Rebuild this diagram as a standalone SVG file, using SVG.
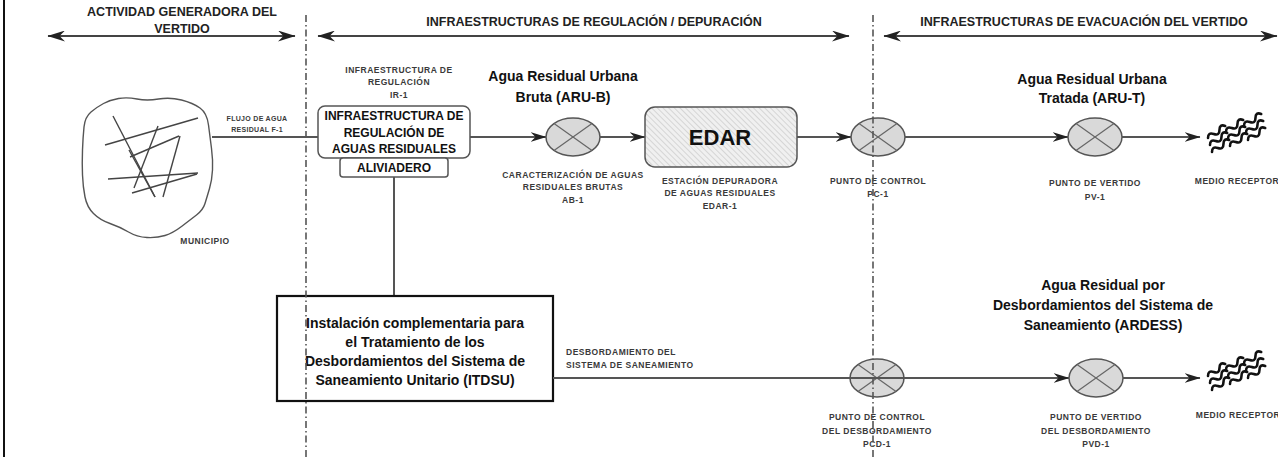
<svg xmlns="http://www.w3.org/2000/svg" xmlns:xlink="http://www.w3.org/1999/xlink" width="1278" height="457" viewBox="0 0 1278 457">
<style>
text{font-family:"Liberation Sans",Arial,sans-serif;font-weight:bold;text-anchor:middle}
.hdr{font-size:12.5px;fill:#222}
.big{font-size:14px;fill:#111}
.box{font-size:12px;fill:#111}
.sm{font-size:8.5px;fill:#3a3a3a;letter-spacing:0.5px}
.fl{font-size:7px;fill:#3a3a3a;letter-spacing:0.3px}
.conn{stroke:#555;stroke-width:2;fill:none}
.hline{stroke:#444;stroke-width:2.2;fill:none}
.div{stroke:#555;stroke-width:1.6;stroke-dasharray:7,3,1.5,3;fill:none}
.scrib{stroke:#444;stroke-width:1.4;fill:none}
</style>
<defs>
<marker id="arr" viewBox="0 0 16 10" refX="15.5" refY="5" markerWidth="16" markerHeight="10" markerUnits="userSpaceOnUse" orient="auto-start-reverse">
<path d="M0,0 L16,5 L0,10 L5,5 Z" fill="#222"/>
</marker>
<marker id="harr" viewBox="0 0 16 10" refX="15.5" refY="5" markerWidth="18" markerHeight="11" markerUnits="userSpaceOnUse" orient="auto-start-reverse">
<path d="M0,0 L16,5 L0,10 L5,5 Z" fill="#222"/>
</marker>
<pattern id="hatch" patternUnits="userSpaceOnUse" width="4" height="4" patternTransform="rotate(-45)">
<rect width="4" height="4" fill="#f0f0f0"/>
<line x1="0" y1="0" x2="0" y2="4" stroke="#c4c4c4" stroke-width="1.2"/>
</pattern>
<g id="valve">
<ellipse cx="0" cy="0" rx="27" ry="19" fill="#d9d9d9" stroke="#555" stroke-width="1.5"/>
<line x1="-19" y1="-13.4" x2="19" y2="13.4" stroke="#666" stroke-width="1.2"/>
<line x1="-19" y1="13.4" x2="19" y2="-13.4" stroke="#666" stroke-width="1.2"/>
</g>
<path id="wave" d="M0,0 q3.5,-5 7,0 t7,0 t7,0" fill="none" stroke="#111" stroke-width="2.6" stroke-linecap="round"/>
<g id="waves">
<use xlink:href="#wave" transform="translate(0,0) rotate(-35)"/>
<use xlink:href="#wave" transform="translate(2,7) rotate(-35)"/>
<use xlink:href="#wave" transform="translate(4,14) rotate(-35)"/>
<use xlink:href="#wave" transform="translate(18,-6) rotate(-35)"/>
<use xlink:href="#wave" transform="translate(20,1) rotate(-35)"/>
<use xlink:href="#wave" transform="translate(22,8) rotate(-35)"/>
<use xlink:href="#wave" transform="translate(36,-12) rotate(-35)"/>
<use xlink:href="#wave" transform="translate(38,-5) rotate(-35)"/>
<use xlink:href="#wave" transform="translate(40,2) rotate(-35)"/>
</g>
</defs>
<rect width="1278" height="457" fill="#fff"/>
<line x1="4" y1="0" x2="4" y2="457" stroke="#111" stroke-width="2"/>

<g id="headers">
<text class="hdr" x="182" y="16">ACTIVIDAD GENERADORA DEL</text>
<text class="hdr" x="182" y="32.5">VERTIDO</text>
<text class="hdr" x="594" y="26">INFRAESTRUCTURAS DE REGULACIÓN / DEPURACIÓN</text>
<text class="hdr" x="1084" y="26">INFRAESTRUCTURAS DE EVACUACIÓN DEL VERTIDO</text>
<line class="hline" x1="48" y1="36" x2="295" y2="36" marker-start="url(#harr)" marker-end="url(#harr)"/>
<line class="hline" x1="318" y1="36" x2="849" y2="36" marker-start="url(#harr)" marker-end="url(#harr)"/>
<line class="hline" x1="884" y1="36" x2="1277" y2="36" marker-start="url(#harr)" marker-end="url(#harr)"/>
</g>

<g id="connectors">
<line class="conn" x1="212" y1="137" x2="318" y2="137"/>
<line class="conn" x1="394" y1="177" x2="394" y2="296"/>
<line class="conn" x1="470" y1="137" x2="546" y2="137" marker-end="url(#arr)"/>
<line class="conn" x1="600" y1="137" x2="645" y2="137" marker-end="url(#arr)"/>
<line class="conn" x1="797" y1="137" x2="851" y2="137" marker-end="url(#arr)"/>
<line class="conn" x1="905" y1="137" x2="1068" y2="137" marker-end="url(#arr)"/>
<line class="conn" x1="1122" y1="137" x2="1200" y2="137" marker-end="url(#arr)"/>
<line class="conn" x1="1123" y1="378" x2="1200" y2="378" marker-end="url(#arr)"/>
</g>

<g id="municipio">
<path d="M118.5,98.5 Q127,97 137,99 Q147,101 158.5,99 Q170,97 181.5,100 Q193,103 200,108 Q207,113 208.5,125 Q210,137 211.5,148.5 Q213,160 212.5,170 Q212,180 209.5,188.5 Q207,197 205,203.5 Q203,210 196.5,215 Q190,220 181.5,226.5 Q173,233 165,235.5 Q157,238 147,237.5 Q137,237 128.5,232 Q120,227 110,223.5 Q100,220 93.5,213.5 Q87,207 85,197 Q83,187 82.5,175 Q82,163 82.5,150 Q83,137 84,127 Q85,117 91,112 Q97,107 103.5,103.5 Q110,100 118.5,98.5 Z" fill="none" stroke="#555" stroke-width="1.4"/>
<line class="scrib" x1="105" y1="145" x2="198" y2="118"/>
<line class="scrib" x1="113" y1="116" x2="155" y2="197"/>
<line class="scrib" x1="158" y1="126" x2="134" y2="188"/>
<line class="scrib" x1="129" y1="150" x2="155" y2="197"/>
<line class="scrib" x1="130" y1="157" x2="179" y2="136"/>
<line class="scrib" x1="180" y1="136" x2="163" y2="197"/>
<line class="scrib" x1="108" y1="179" x2="198" y2="173"/>
<line class="scrib" x1="132" y1="193" x2="197" y2="174"/>
<text class="sm" x="205" y="244">MUNICIPIO</text>
<text class="fl" x="257" y="121">FLUJO DE AGUA</text>
<text class="fl" x="257" y="132">RESIDUAL F-1</text>
</g>

<g id="ir1">
<text class="sm" x="399" y="72.5">INFRAESTRUCTURA DE</text>
<text class="sm" x="399" y="85">REGULACIÓN</text>
<text class="sm" x="399" y="97.5">IR-1</text>
<rect x="318" y="106" width="152" height="52" rx="7" fill="#fff" stroke="#555" stroke-width="1.5"/>
<text class="box" x="394" y="119.5">INFRAESTRUCTURA DE</text>
<text class="box" x="394" y="136.5">REGULACIÓN DE</text>
<text class="box" x="394" y="152.5">AGUAS RESIDUALES</text>
</g>

<g id="aliviadero">
<rect x="340" y="158" width="108" height="19" rx="3" fill="#fff" stroke="#555" stroke-width="1.5"/>
<text class="box" x="394" y="172">ALIVIADERO</text>
</g>

<g id="ab1">
<use xlink:href="#valve" transform="translate(573,137)"/>
<text class="big" x="563" y="81">Agua Residual Urbana</text>
<text class="big" x="563" y="102">Bruta (ARU-B)</text>
<text class="sm" x="573" y="178">CARACTERIZACIÓN DE AGUAS</text>
<text class="sm" x="573" y="190">RESIDUALES BRUTAS</text>
<text class="sm" x="573" y="203">AB-1</text>
</g>

<g id="edar">
<rect x="645" y="107" width="152" height="60" rx="10" fill="url(#hatch)" stroke="#555" stroke-width="1.5"/>
<text x="720" y="145" style="font-size:22px;fill:#111">EDAR</text>
<text class="sm" x="720" y="184">ESTACIÓN DEPURADORA</text>
<text class="sm" x="720" y="196">DE AGUAS RESIDUALES</text>
<text class="sm" x="720" y="209">EDAR-1</text>
</g>

<g id="pc1">
<use xlink:href="#valve" transform="translate(878,137)"/>
<text class="sm" x="878" y="184">PUNTO DE CONTROL</text>
<text class="sm" x="878" y="197">PC-1</text>
</g>

<g id="pv1">
<use xlink:href="#valve" transform="translate(1095,137)"/>
<text class="big" x="1092" y="84">Agua Residual Urbana</text>
<text class="big" x="1092" y="103">Tratada (ARU-T)</text>
<text class="sm" x="1095" y="186">PUNTO DE VERTIDO</text>
<text class="sm" x="1095" y="200">PV-1</text>
</g>

<g id="medio1">
<use xlink:href="#waves" transform="translate(1208,138)"/>
<text class="sm" x="1237" y="184">MEDIO RECEPTOR</text>
</g>

<g id="itdsu">
<rect x="277" y="296" width="276" height="105" fill="#fff" stroke="#111" stroke-width="2.2"/>
<text class="big" x="415" y="328">Instalación complementaria para</text>
<text class="big" x="415" y="347">el Tratamiento de los</text>
<text class="big" x="415" y="366">Desbordamientos del Sistema de</text>
<text class="big" x="415" y="384.5">Saneamiento Unitario (ITDSU)</text>
</g>

<g id="pcd1">
<use xlink:href="#valve" transform="translate(877,378)"/>
<text class="sm" x="877" y="420">PUNTO DE CONTROL</text>
<text class="sm" x="877" y="434">DEL DESBORDAMIENTO</text>
<text class="sm" x="877" y="447">PCD-1</text>
</g>

<g id="connector-desbordamiento">
<line class="conn" x1="553" y1="378" x2="1069" y2="378" marker-end="url(#arr)"/>
<text class="sm" x="566" y="355" style="text-anchor:start">DESBORDAMIENTO DEL</text>
<text class="sm" x="566" y="368" style="text-anchor:start">SISTEMA DE SANEAMIENTO</text>
</g>

<g id="pvd1">
<use xlink:href="#valve" transform="translate(1096,378)"/>
<text class="big" x="1103" y="290">Agua Residual por</text>
<text class="big" x="1103" y="310">Desbordamientos del Sistema de</text>
<text class="big" x="1103" y="330">Saneamiento (ARDESS)</text>
<text class="sm" x="1096" y="420">PUNTO DE VERTIDO</text>
<text class="sm" x="1096" y="434">DEL DESBORDAMIENTO</text>
<text class="sm" x="1096" y="447">PVD-1</text>
</g>

<g id="medio2">
<use xlink:href="#waves" transform="translate(1208,376)"/>
<text class="sm" x="1238" y="418">MEDIO RECEPTOR</text>
</g>

<g id="dividers">
<line class="div" x1="306" y1="15" x2="306" y2="457"/>
<line class="div" x1="873" y1="15" x2="873" y2="457"/>
</g>
</svg>
